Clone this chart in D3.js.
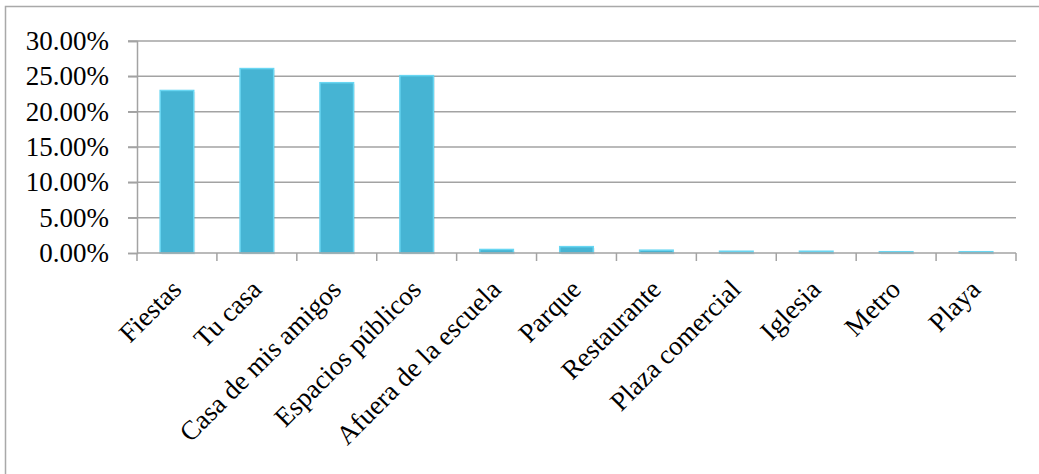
<!DOCTYPE html>
<html>
<head>
<meta charset="utf-8">
<script src="https://cdn.jsdelivr.net/npm/d3@7"></script>
<style>
  body { margin: 0; background: #fff; }
  text { font-family: "Liberation Serif", "DejaVu Serif", serif; fill: #000; }
</style>
</head>
<body>
<div id="chart"></div>
<script>

const categories = ['Fiestas', 'Tu casa', 'Casa de mis amigos', 'Espacios públicos', 'Afuera de la escuela',
                    'Parque', 'Restaurante', 'Plaza comercial', 'Iglesia', 'Metro', 'Playa']
const values = [0.23, 0.261, 0.241, 0.251, 0.005, 0.009, 0.004, 0.0025, 0.0025, 0.0018, 0.0018]
const yTicks = [0, 0.05, 0.10, 0.15, 0.20, 0.25, 0.30]

const width = 1039
const height = 474
const margin = {top: 41, right: 23, bottom: 221, left: 137}

let svg = d3.select('#chart')
            .append('svg')
            .attr('width', width)
            .attr('height', height)

// outer chart frame (only top and left edges visible)
svg.append('path')
   .attr('d', `M5.5,${height + 2} L5.5,6.5 L${width + 2},6.5`)
   .attr('fill', 'none')
   .attr('stroke', '#a9a9a9')
   .attr('stroke-width', 1.5)

let x = d3.scaleBand()
          .domain(categories)
          .range([margin.left, width - margin.right])
          .paddingInner(0.58)
          .paddingOuter(0.29)

let y = d3.scaleLinear()
          .domain([0, 0.30])
          .range([height - margin.bottom, margin.top])

// gridlines
svg.append('g')
   .selectAll('line.grid')
   .data(yTicks.filter(d => d > 0))
   .join('line')
   .attr('class', 'grid')
   .attr('x1', margin.left - 9)
   .attr('x2', width - margin.right)
   .attr('y1', d => y(d))
   .attr('y2', d => y(d))
   .attr('stroke', '#a3a3a3')
   .attr('stroke-width', 1.5)

// y axis labels
let yAxis = svg.append('g')
               .attr('transform', `translate(${margin.left},0)`)
               .call(d3.axisLeft(y).tickValues(yTicks).tickFormat(d3.format('.2%')).tickSize(9).tickPadding(19))
yAxis.attr('font-size', null).attr('font-family', null)
yAxis.select('.domain').attr('stroke', '#a3a3a3').attr('stroke-width', 1.5)
yAxis.selectAll('.tick line').attr('stroke', '#a3a3a3').attr('stroke-width', 1.5)
yAxis.selectAll('.tick text')
     .style('font-size', '27px')
     .attr('fill', '#000')

// bars
let bars = svg.append('g')
bars.selectAll('rect.shadow')
    .data(values)
    .join('rect')
    .attr('class', 'shadow')
    .attr('x', (d, i) => x(categories[i]) + 1.5)
    .attr('y', d => y(d) + 1.5)
    .attr('width', x.bandwidth())
    .attr('height', d => y(0) - y(d))
    .attr('fill', '#000')
    .attr('opacity', 0.08)

bars.selectAll('rect.bar')
    .data(values)
    .join('rect')
    .attr('class', 'bar')
    .attr('x', (d, i) => x(categories[i]))
    .attr('y', d => y(d))
    .attr('width', x.bandwidth())
    .attr('height', d => y(0) - y(d))
    .attr('fill', '#46b4d3')
    .attr('stroke', '#68d6f2')
    .attr('stroke-width', 1.5)

// x axis
let step = x.step()
let bounds = categories.map((c, i) => margin.left + step * i).concat([width - margin.right])
let xAxis = svg.append('g')
xAxis.append('line')
     .attr('x1', margin.left)
     .attr('x2', width - margin.right)
     .attr('y1', y(0))
     .attr('y2', y(0))
     .attr('stroke', '#a3a3a3')
     .attr('stroke-width', 1.5)
xAxis.selectAll('line.tick')
     .data(bounds)
     .join('line')
     .attr('class', 'tick')
     .attr('x1', d => d)
     .attr('x2', d => d)
     .attr('y1', y(0))
     .attr('y2', y(0) + 8)
     .attr('stroke', '#a3a3a3')
     .attr('stroke-width', 1.5)

xAxis.selectAll('text.label')
     .data(categories)
     .join('text')
     .attr('class', 'label')
     .attr('text-anchor', 'end')
     .style('font-size', '27px')
     .attr('transform', d => `translate(${x(d) + x.bandwidth() / 2 + 6},${y(0) + 38}) rotate(-45)`)
     .text(d => d)

</script>
</body>
</html>
